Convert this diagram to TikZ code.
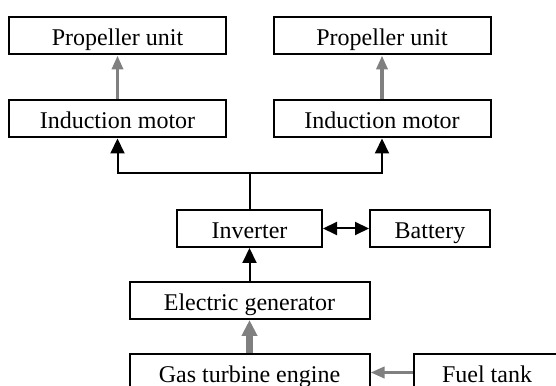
\documentclass[tikz,border=0pt]{standalone}
\usepackage{fontspec}
\setmainfont{Liberation Serif}
\usetikzlibrary{arrows.meta}
\definecolor{flowgrey}{HTML}{808080}
\tikzset{
  font=\fontsize{12}{14}\selectfont,
  box/.style={draw=black,line width=1pt,minimum height=18.5pt,inner sep=0pt,
              fill=white,align=center,text height=10.5pt,text depth=0.5pt},
  elec/.style={line width=1pt,draw=black},
  elecarrow/.style={elec,-{Triangle[length=7.5pt,width=7pt]}},
  mech/.style={line width=1.8pt,draw=flowgrey,
               -{Triangle[length=7pt,width=5.5pt]}},
  shaft/.style={line width=3.5pt,draw=flowgrey,
                -{Triangle[length=8pt,width=7.5pt]}},
}

\begin{document}
\begin{tikzpicture}[x=0.5pt,y=0.5pt]
  \clip (0,0) rectangle (556,385);
  \fill[white] (0,0) rectangle (556,385);

  % ---- propulsion: two shafts ----
  \node[box,minimum width=108.5pt] (propL) at (117.5,349) {Propeller unit};
  \node[box,minimum width=108.5pt] (propR) at (382,349)   {Propeller unit};
  \node[box,minimum width=108.5pt] (motL)  at (117.5,266) {Induction motor};
  \node[box,minimum width=108.5pt] (motR)  at (382,266)   {Induction motor};

  % ---- power conversion ----
  \node[box,minimum width=72.5pt]  (inv)  at (249.5,156.5) {Inverter};
  \node[box,minimum width=60pt]    (bat)  at (430,156.5)   {Battery};
  \node[box,minimum width=120pt]   (gen)  at (249.5,84.5)  {Electric generator};

  % ---- prime mover (cut by the page edge) ----
  \node[box,minimum width=120pt]   (gas)  at (249.5,12.5)  {Gas turbine engine};
  \node[box,minimum width=73pt]    (fuel) at (487,12.5)    {Fuel tank};

  % split point of the electric bus
  \coordinate (split) at (249.5,212);

  % mechanical links (grey)
  \draw[mech] (motL) -- (propL);
  \draw[mech] (motR) -- (propR);
  \draw[shaft] (gas) -- (gen);
  \draw[mech] (fuel) -- (gas);

  % electric links (black)
  \draw[elecarrow] (gen) -- (inv);
  \draw[elec] (inv) -- (split);
  \draw[elecarrow] (split) -| (motL);
  \draw[elecarrow] (split) -| (motR);
  \draw[elec,{Triangle[length=7pt,width=6.5pt]}-{Triangle[length=7pt,width=6.5pt]}]
    (inv) -- (bat);
\end{tikzpicture}
\end{document}
